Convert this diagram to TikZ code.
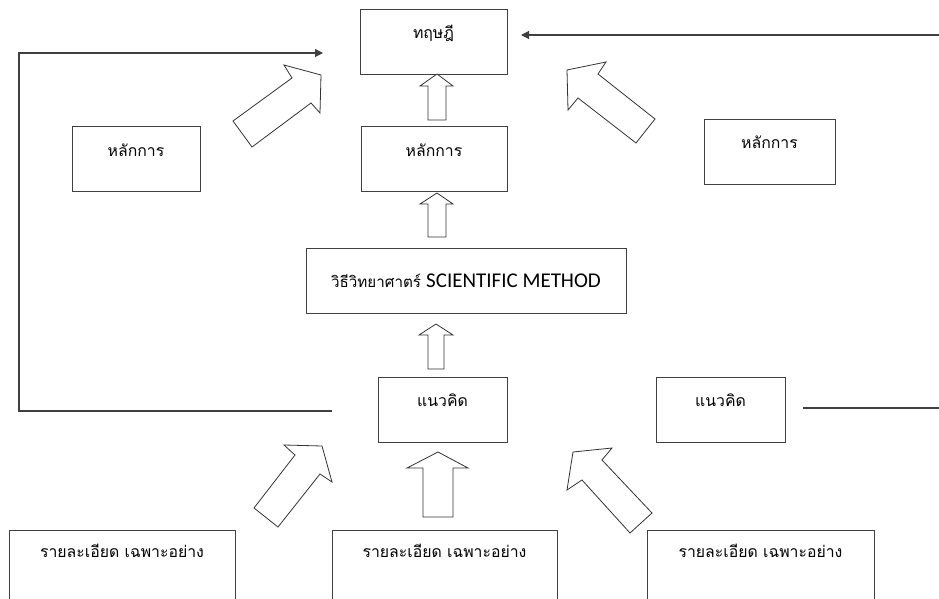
\documentclass[tikz,border=0pt]{standalone}
\usepackage{fontspec}
\setmainfont{Carlito}
\newfontfamily\thaifont[Script=Thai]{Loma}
\usetikzlibrary{arrows.meta, positioning}

\begin{document}
\begin{tikzpicture}[x=1pt, y=-1pt,
    box/.style={draw=black!75, line width=0.9pt, inner sep=0pt,
        minimum height=65pt, text height=10pt, text depth=16pt,
        font=\thaifont\fontsize{15.8}{19}\selectfont},
    link/.style={draw=black!75, line width=1.1pt},
    linkarrow/.style={link, -{Triangle[length=8pt,width=8pt]}},
    blockarrow/.style={draw=black!80, line width=0.8pt, fill=white, line join=miter}]

        % Khung hinh
        \useasboundingbox (0,0) rectangle (939,599);
        \clip (0,0) rectangle (939,599);

        % Cac hop chinh
        \node[box, minimum width=147pt] (theory) at (433.5,41.5) {ทฤษฎี};
        \node[box, minimum width=146pt] (principle) at (434,159) {หลักการ};
        \node[box, minimum width=128pt] (principleL) at (136,159) {หลักการ};
        \node[box, minimum width=131pt] (principleR) at (769.5,152) {หลักการ};
        \node[box, minimum width=320pt, text height=14pt, text depth=1pt, font=\thaifont\fontsize{15.2}{19}\selectfont] (method) at (466,280.5)
            {วิธีวิทยาศาตร์ {\rmfamily\fontsize{21}{24}\selectfont SCIENTIFIC METHOD}};
        \node[box, minimum width=129pt] (concept) at (442.5,409.5) {แนวคิด};
        \node[box, minimum width=129pt] (conceptR) at (720.5,409.5) {แนวคิด};

        % Hop chi tiet phia duoi
        \node[box, minimum width=226pt, minimum height=100pt, text depth=56pt] (detailL) at (122,580) {รายละเอียด เฉพาะอย่าง};
        \node[box, minimum width=225pt, minimum height=100pt, text depth=56pt] (detailM) at (444.5,580) {รายละเอียด เฉพาะอย่าง};
        \node[box, minimum width=227pt, minimum height=100pt, text depth=56pt] (detailR) at (760.5,580) {รายละเอียด เฉพาะอย่าง};

        % Duong noi
        \coordinate (lfrom) at (332,411);
        \coordinate (lcorner) at (19,411);
        \coordinate (lto) at (323,53);
        \draw[linkarrow] (lfrom) -- (lcorner) |- (lto); % Vong ben trai
        \coordinate (rfrom) at (939,35);
        \coordinate (rto) at (521,35);
        \draw[linkarrow] (rfrom) -- (rto); % Mui ten ben phai
        \coordinate (cfrom) at (803,408);
        \coordinate (cto) at (939,408);
        \draw[link] (cfrom) -- (cto); % Duong tu hop phai

        % Mui ten khoi thang dung
        \draw[blockarrow] (437,74) -- (453,86) -- (446,86) -- (446,120) -- (428,120) -- (428,86) -- (420,86) -- cycle;
        \draw[blockarrow] (437,193) -- (453,204) -- (446,204) -- (446,237) -- (428,237) -- (428,204) -- (420,204) -- cycle;
        \draw[blockarrow] (436,324) -- (453,335) -- (444,335) -- (444,369) -- (428,369) -- (428,335) -- (419,335) -- cycle;
        \draw[blockarrow] (438,452) -- (468,468) -- (453,468) -- (453,517) -- (423,517) -- (423,468) -- (407,468) -- cycle;

        % Mui ten khoi cheo
        \draw[blockarrow] (321,75) -- (320,113) -- (311,103) -- (252,147) -- (233,121) -- (292,78) -- (284,65) -- cycle;
        \draw[blockarrow] (567,70) -- (606,62) -- (598,74) -- (655,119) -- (636,143) -- (578,98) -- (568,110) -- cycle;
        \draw[blockarrow] (322,446) -- (332,482) -- (320,474) -- (278,527) -- (254,508) -- (295,455) -- (284,445) -- cycle;
        \draw[blockarrow] (573,452) -- (612,448) -- (602,460) -- (652,513) -- (630,533) -- (582,480) -- (567,490) -- cycle;

\end{tikzpicture}
\end{document}
